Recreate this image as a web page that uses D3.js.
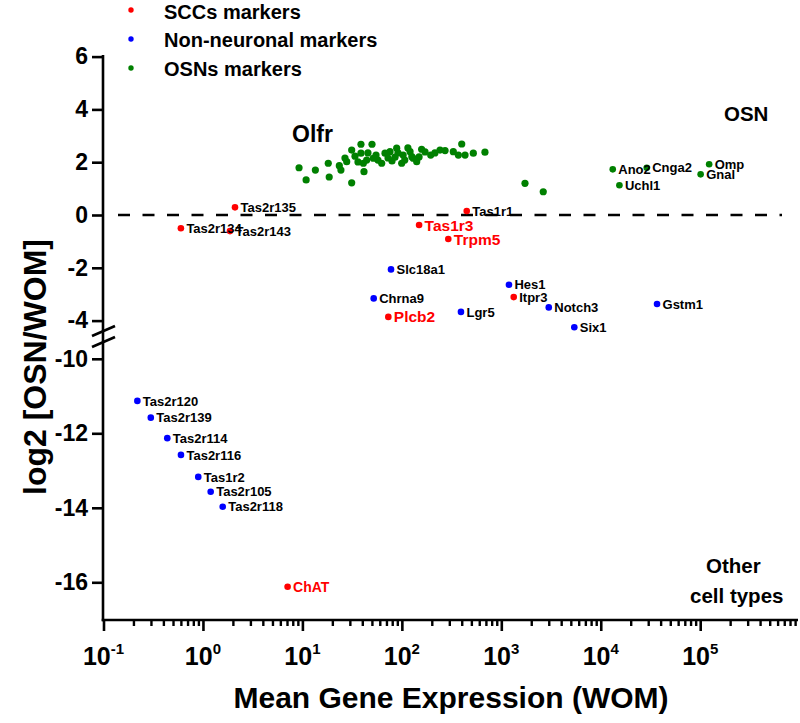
<!DOCTYPE html>
<html><head><meta charset="utf-8">
<script src="https://cdn.jsdelivr.net/npm/d3@7"></script>
<style>
body{margin:0;background:#fff;}
svg{display:block;font-family:"Liberation Sans",Arial,sans-serif;font-weight:bold;}
</style></head>
<body>
<svg id="c" width="800" height="723"></svg>
<script>
// ---------------- data ----------------
const sccGenes = ["Tas2r135","Tas2r134","Tas2r143","Tas1r3","Tas1r1","Trpm5","Itpr3","Plcb2","ChAT"];
const sccExpr  = [2.1, 0.60, 1.87, 149, 449, 293, 1333, 73.1, 7.1];
const sccLog2  = [0.29, -0.50, -0.61, -0.38, 0.15, -0.91, -3.11, -3.86, -16.12];

const nonGenes = ["Slc18a1","Hes1","Chrna9","Notch3","Lgr5","Six1","Gstm1",
                  "Tas2r120","Tas2r139","Tas2r114","Tas2r116","Tas1r2","Tas2r105","Tas2r118"];
const nonExpr  = [77.8, 1194, 52.1, 3000, 393, 5420, 36800,
                  0.219, 0.299, 0.438, 0.601, 0.897, 1.196, 1.58];
const nonLog2  = [-2.06, -2.64, -3.16, -3.50, -3.67, -4.25, -3.37,
                  -11.13, -11.58, -12.13, -12.58, -13.17, -13.57, -13.97];

const osnGenes = ["Ano2","Cnga2","Omp","Gnal","Uchl1"];
const osnExpr  = [13200, 29000, 123000, 101000, 15400];
const osnLog2  = [1.73, 1.79, 1.92, 1.54, 1.125];

// unlabeled Olfr receptor genes
const olfrExpr = [9.25,10.9,13.5,18.2,18.6,23.5,24.4,31.3,27.9,31.3,38.8,50.1,38.8,41,41.6,44.3,51.6,62.7,67.7,76,
                  85.3,88.7,99.6,103,121,126,141,158,195,130,272,329,400,370,432,523,685,
                  26.8,33.8,36.2,45.6,55,57.5,72.6,79.6,91.4,107,115,149,171,215,242,1730,2640];
const olfrLog2 = [1.79,1.33,1.70,1.96,1.44,1.87,1.70,1.22,2.02,2.46,2.68,2.68,2.34,1.96,1.64,2.08,2.15,1.96,2.34,2.40,
                  2.19,2.53,1.96,2.27,2.40,2.21,2.02,2.49,2.27,2.15,2.44,2.40,2.69,2.27,2.27,2.34,2.38,
                  2.16,2.23,2.01,2.35,2.27,2.08,2.16,2.05,2.35,2.08,2.54,2.20,2.39,2.35,2.46,1.20,0.88];

const legendLabels = ["SCCs markers","Non-neuronal markers","OSNs markers"];
const yTicksUpper = [6,4,2,0,-2,-4];
const yTicksLower = [-10,-12,-14,-16];
const xMajor = [-1,0,1,2,3,4,5]; // exponents

// ---------------- layout ----------------
const RED="#ff0000", BLUE="#0000ff", GREEN="#008000";
const svg = d3.select("#c");
const x = d3.scaleLog().domain([0.1, 9.6e5]).range([103.5, 797.9]);
const yU = d3.scaleLinear().domain([-4, 6]).range([320.6, 56.6]);
const yL = d3.scaleLinear().domain([-16, -10]).range([582.3, 358.8]);
const y = v => v > -7 ? yU(v) : yL(v);
const axX = 103, axBottom = 620, axTop = 55;

// axes lines
const ax = svg.append("g").attr("stroke","#000").attr("stroke-width",2.6).attr("fill","none");
ax.append("line").attr("x1",axX).attr("x2",axX).attr("y1",axTop).attr("y2",axBottom+1.3);
ax.append("line").attr("x1",axX-1.3).attr("x2",798).attr("y1",axBottom).attr("y2",axBottom);
// break marks
[331,342].forEach(c=>{
  ax.append("line").attr("x1",axX-11).attr("y1",c+5).attr("x2",axX+12).attr("y2",c-5);
});

// y axes via d3
function styleAxis(g){
  g.select(".domain").remove();
  g.selectAll(".tick line").attr("stroke","#000").attr("stroke-width",2.6);
  g.selectAll(".tick text").attr("fill","#000").style("font-size","23px").style("font-weight","bold")
    .attr("x",-15);
}
svg.append("g").attr("transform",`translate(${axX},0)`)
  .call(d3.axisLeft(yU).tickValues(yTicksUpper).tickSize(11).tickFormat(d=>String(d)))
  .call(styleAxis);
svg.append("g").attr("transform",`translate(${axX},0)`)
  .call(d3.axisLeft(yL).tickValues(yTicksLower).tickSize(11).tickFormat(d=>String(d)))
  .call(styleAxis);

// x axis major & minor ticks
const minor = [];
for (let e=-1; e<=5; e++) for (let m=2; m<=9; m++){ const v=m*Math.pow(10,e); if (v<=x.domain()[1]) minor.push(v); }
const gx = svg.append("g").attr("transform",`translate(0,${axBottom})`);
gx.call(d3.axisBottom(x).tickValues(xMajor.map(e=>Math.pow(10,e))).tickSize(11).tickFormat(""));
gx.select(".domain").remove();
gx.selectAll(".tick line").attr("stroke","#000").attr("stroke-width",2.6);
const gxm = svg.append("g").attr("transform",`translate(0,${axBottom})`);
gxm.call(d3.axisBottom(x).tickValues(minor).tickSize(6).tickFormat(""));
gxm.select(".domain").remove();
gxm.selectAll(".tick line").attr("stroke","#000").attr("stroke-width",2.4);

// x tick labels with superscripts
xMajor.forEach(e=>{
  const t = svg.append("text").attr("x",x(Math.pow(10,e))).attr("y",665)
    .attr("text-anchor","middle").style("font-size","25px");
  t.append("tspan").text("10");
  t.append("tspan").text(String(e)).style("font-size","15px").attr("dy",-11);
});

// titles
svg.append("text").attr("x",451).attr("y",708).attr("text-anchor","middle")
  .style("font-size","30px").text("Mean Gene Expression (WOM)");
svg.append("text").attr("transform","translate(46,367) rotate(-90)").attr("text-anchor","middle")
  .style("font-size","32px").text("log2 [OSN/WOM]");

// dashed zero line
svg.append("line").attr("x1",118).attr("x2",782).attr("y1",y(0)).attr("y2",y(0))
  .attr("stroke","#000").attr("stroke-width",2.6).attr("stroke-dasharray","12,12.5");

// corner annotations
svg.append("text").attr("x",724).attr("y",121).style("font-size","20.5px").text("OSN");
svg.append("text").attr("x",706).attr("y",573).style("font-size","20.5px").text("Other");
svg.append("text").attr("x",690).attr("y",603).style("font-size","20.5px").text("cell types");
svg.append("text").attr("x",292).attr("y",142).style("font-size","23px").text("Olfr");

// points
const olfr = olfrExpr.map((v,i)=>({e:v,l:olfrLog2[i]}));
svg.append("g").selectAll("circle").data(olfr).join("circle")
  .attr("cx",d=>x(d.e)).attr("cy",d=>y(d.l)).attr("r",3.6).attr("fill",GREEN);

const bigRed = new Set(["Tas1r3","Trpm5","Plcb2"]);
function labeled(genes, expr, lg, color){
  const data = genes.map((g,i)=>({g, e:expr[i], l:lg[i]}));
  const g = svg.append("g");
  g.selectAll("circle").data(data).join("circle")
    .attr("cx",d=>x(d.e)).attr("cy",d=>y(d.l)).attr("r",3.3).attr("fill",color);
  g.selectAll("text").data(data).join("text")
    .attr("x",d=>x(d.e)+5.5).attr("y",d=>y(d.l)).attr("dy","0.36em")
    .style("font-size",d=>bigRed.has(d.g)?"15.5px":(d.g==="ChAT"?"14px":"13px"))
    .attr("fill",d=>(bigRed.has(d.g)||d.g==="ChAT")?RED:"#000")
    .text(d=>d.g);
}
labeled(osnGenes, osnExpr, osnLog2, GREEN);
labeled(nonGenes, nonExpr, nonLog2, BLUE);
labeled(sccGenes, sccExpr, sccLog2, RED);

// legend
const lg = svg.append("g");
[RED,BLUE,GREEN].forEach((c,i)=>{
  lg.append("circle").attr("cx",131).attr("cy",10+i*29).attr("r",2.7).attr("fill",c);
  lg.append("text").attr("x",164).attr("y",18.5+i*28.5).style("font-size","20px").text(legendLabels[i]);
});
</script>
</body></html>
